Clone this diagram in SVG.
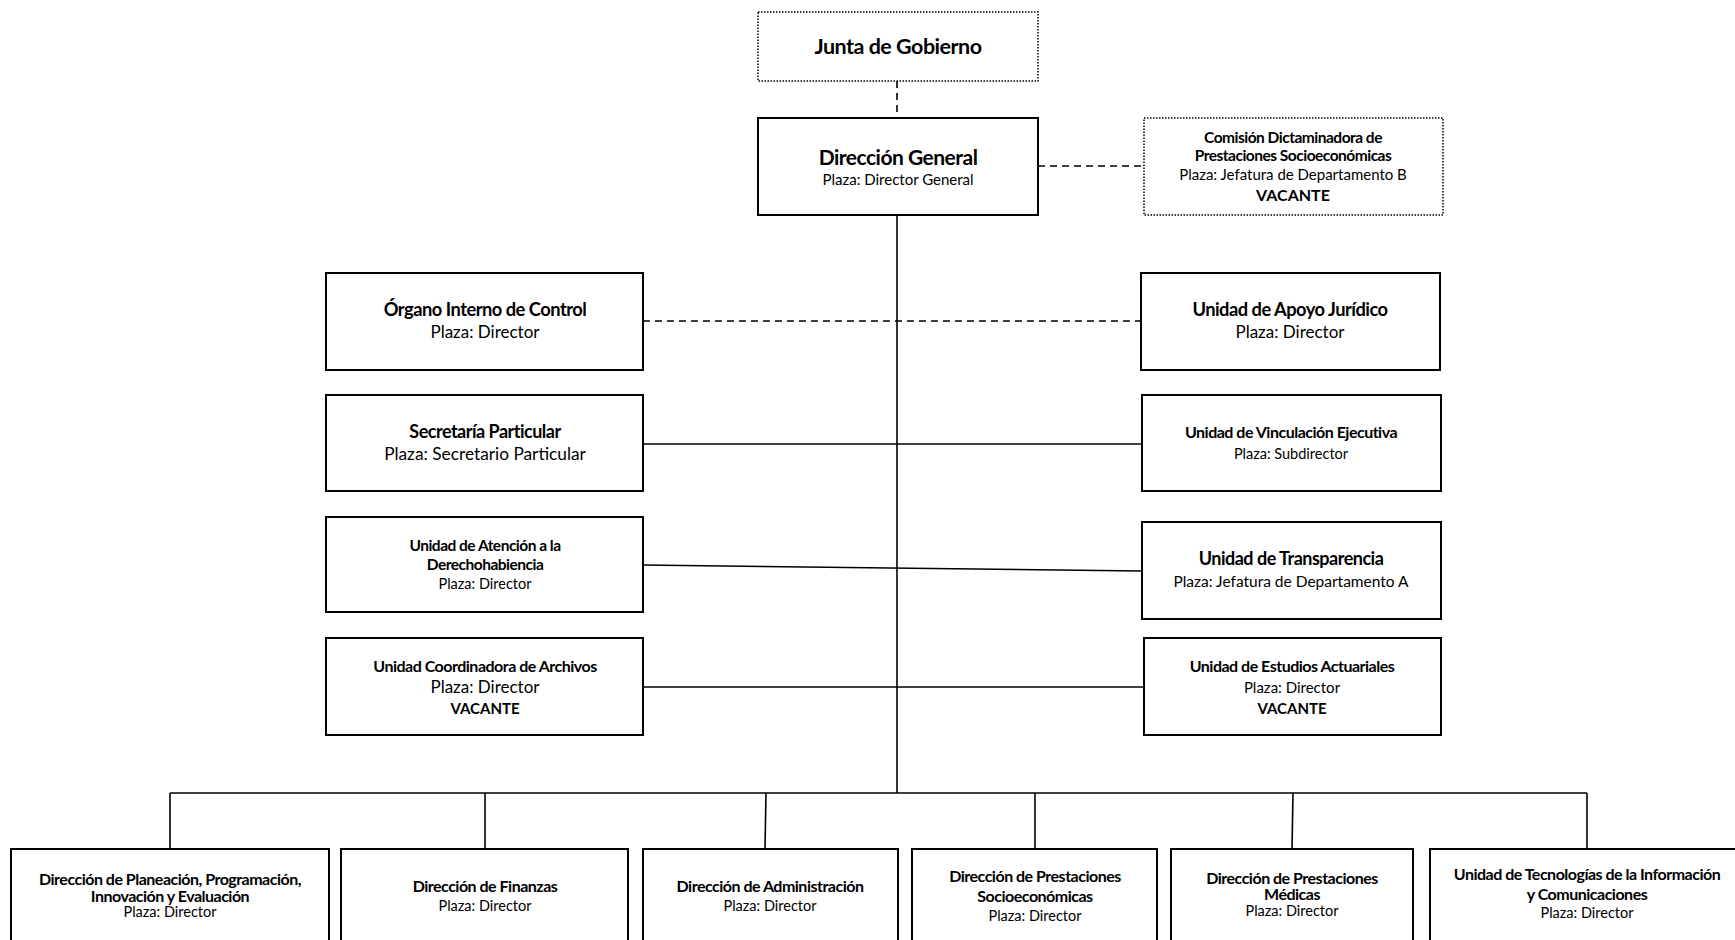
<svg xmlns="http://www.w3.org/2000/svg" width="1735" height="940" viewBox="0 0 1735 940">
<style>
.box{fill:#fff;stroke:#000;stroke-width:2}
.dot{fill:#fff;stroke:#000;stroke-width:1.5;stroke-dasharray:1.5 1.5}
.ln{fill:none;stroke:#000;stroke-width:1.6}
.dash{fill:none;stroke:#000;stroke-width:1.6;stroke-dasharray:7 5}
text{font-family:Lato,"Open Sans","Liberation Sans",sans-serif;text-anchor:middle;fill:#000}
.t{font-weight:bold;letter-spacing:-0.5px}
.p{font-weight:normal}
.v{font-weight:bold}
</style>
<rect width="1735" height="940" fill="#fff"/>
<g id="connectors">
<line class="dash" x1="897" y1="81" x2="897" y2="118"/>
<line class="dash" x1="1038" y1="166" x2="1144" y2="166"/>
<line class="ln" x1="897" y1="215" x2="897" y2="793"/>
<line class="dash" x1="643" y1="321" x2="1141" y2="321"/>
<line class="ln" x1="643" y1="444" x2="1142" y2="444"/>
<line class="ln" x1="643" y1="565" x2="1142" y2="571"/>
<line class="ln" x1="643" y1="687" x2="1144" y2="687"/>
<line class="ln" x1="170" y1="793" x2="1587" y2="793"/>
<line class="ln" x1="170" y1="793" x2="170" y2="849"/>
<line class="ln" x1="485" y1="793" x2="485" y2="849"/>
<line class="ln" x1="766" y1="793" x2="765" y2="849"/>
<line class="ln" x1="1035" y1="793" x2="1035" y2="849"/>
<line class="ln" x1="1293" y1="793" x2="1292" y2="849"/>
<line class="ln" x1="1587" y1="793" x2="1587" y2="849"/>
</g>
<g id="junta">
<rect class="dot" x="758" y="12" width="280" height="69"/>
<text class="t" x="898" y="54" font-size="21.5">Junta de Gobierno</text>
</g>
<g id="direccion-general">
<rect class="box" x="758" y="118" width="280" height="97"/>
<text class="t" x="898" y="165" font-size="21">Dirección General</text>
<text class="p" x="898" y="185" font-size="15">Plaza: Director General</text>
</g>
<g id="comision">
<rect class="dot" x="1144" y="118" width="299" height="97"/>
<text class="t" x="1293" y="143" font-size="15.5">Comisión Dictaminadora de</text>
<text class="t" x="1293" y="161" font-size="15.5">Prestaciones Socioeconómicas</text>
<text class="p" x="1293" y="180" font-size="15">Plaza: Jefatura de Departamento B</text>
<text class="v" x="1293" y="201" font-size="16">VACANTE</text>
</g>
<g id="organo">
<rect class="box" x="326" y="273" width="317" height="97"/>
<text class="t" x="485" y="316" font-size="18.3">Órgano Interno de Control</text>
<text class="p" x="485" y="338" font-size="17">Plaza: Director</text>
</g>
<g id="apoyo-juridico">
<rect class="box" x="1141" y="273" width="299" height="97"/>
<text class="t" x="1290" y="316" font-size="18.3">Unidad de Apoyo Jurídico</text>
<text class="p" x="1290" y="338" font-size="17">Plaza: Director</text>
</g>
<g id="secretaria">
<rect class="box" x="326" y="395" width="317" height="96"/>
<text class="t" x="485" y="438" font-size="18">Secretaría Particular</text>
<text class="p" x="485" y="460" font-size="17.3">Plaza: Secretario Particular</text>
</g>
<g id="vinculacion">
<rect class="box" x="1142" y="395" width="299" height="96"/>
<text class="t" x="1291" y="438" font-size="16">Unidad de Vinculación Ejecutiva</text>
<text class="p" x="1291" y="459" font-size="14.5">Plaza: Subdirector</text>
</g>
<g id="atencion">
<rect class="box" x="326" y="517" width="317" height="95"/>
<text class="t" x="485" y="551" font-size="15.5">Unidad de Atención a la</text>
<text class="t" x="485" y="570" font-size="15.5">Derechohabiencia</text>
<text class="p" x="485" y="589" font-size="14.5">Plaza: Director</text>
</g>
<g id="transparencia">
<rect class="box" x="1142" y="522" width="299" height="97"/>
<text class="t" x="1291" y="565" font-size="18">Unidad de Transparencia</text>
<text class="p" x="1291" y="587" font-size="15.5">Plaza: Jefatura de Departamento A</text>
</g>
<g id="archivos">
<rect class="box" x="326" y="638" width="317" height="97"/>
<text class="t" x="485" y="672" font-size="16">Unidad Coordinadora de Archivos</text>
<text class="p" x="485" y="693" font-size="17">Plaza: Director</text>
<text class="v" x="485" y="714" font-size="15">VACANTE</text>
</g>
<g id="estudios">
<rect class="box" x="1144" y="638" width="297" height="97"/>
<text class="t" x="1292" y="672" font-size="16">Unidad de Estudios Actuariales</text>
<text class="p" x="1292" y="693" font-size="15">Plaza: Director</text>
<text class="v" x="1292" y="714" font-size="15">VACANTE</text>
</g>
<g id="planeacion">
<rect class="box" x="11" y="849" width="318" height="120"/>
<text class="t" x="170" y="885" font-size="16">Dirección de Planeación, Programación,</text>
<text class="t" x="170" y="902" font-size="16">Innovación y Evaluación</text>
<text class="p" x="170" y="917" font-size="14.5">Plaza: Director</text>
</g>
<g id="finanzas">
<rect class="box" x="341" y="849" width="287" height="120"/>
<text class="t" x="485" y="892" font-size="16">Dirección de Finanzas</text>
<text class="p" x="485" y="911" font-size="14.5">Plaza: Director</text>
</g>
<g id="administracion">
<rect class="box" x="643" y="849" width="255" height="120"/>
<text class="t" x="770" y="892" font-size="16">Dirección de Administración</text>
<text class="p" x="770" y="911" font-size="14.5">Plaza: Director</text>
</g>
<g id="prestaciones-socio">
<rect class="box" x="912" y="849" width="245" height="120"/>
<text class="t" x="1035" y="882" font-size="16">Dirección de Prestaciones</text>
<text class="t" x="1035" y="902" font-size="16">Socioeconómicas</text>
<text class="p" x="1035" y="921" font-size="14.5">Plaza: Director</text>
</g>
<g id="prestaciones-medicas">
<rect class="box" x="1171" y="849" width="242" height="120"/>
<text class="t" x="1292" y="884" font-size="16">Dirección de Prestaciones</text>
<text class="t" x="1292" y="900" font-size="16">Médicas</text>
<text class="p" x="1292" y="916" font-size="14.5">Plaza: Director</text>
</g>
<g id="tic">
<rect class="box" x="1430" y="849" width="320" height="120"/>
<text class="t" x="1587" y="880" font-size="16">Unidad de Tecnologías de la Información</text>
<text class="t" x="1587" y="900" font-size="16">y Comunicaciones</text>
<text class="p" x="1587" y="918" font-size="14.5">Plaza: Director</text>
</g>
</svg>
